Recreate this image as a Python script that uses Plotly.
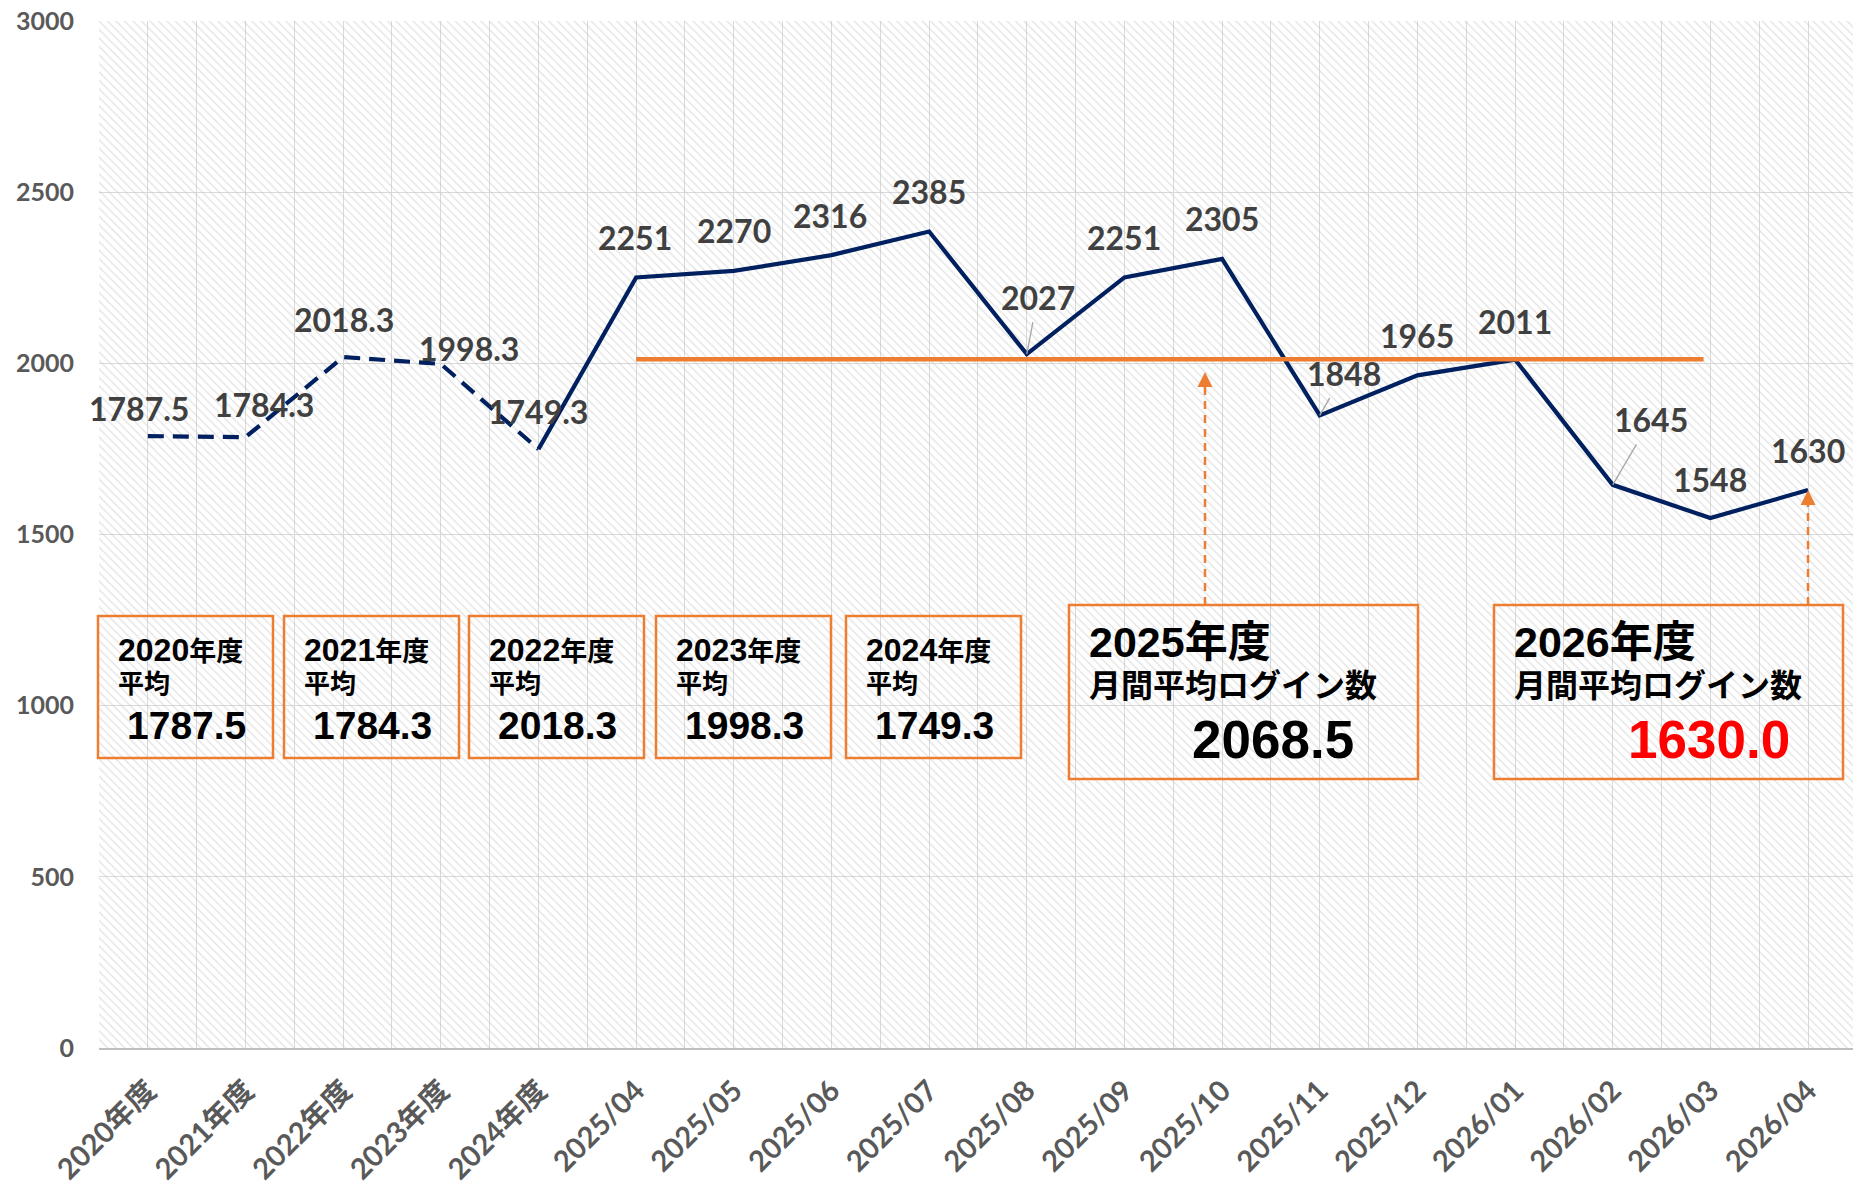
import plotly.graph_objects as go

# ---------------- data ----------------
categories = ["2020年度", "2021年度", "2022年度", "2023年度", "2024年度",
              "2025/04", "2025/05", "2025/06", "2025/07", "2025/08", "2025/09",
              "2025/10", "2025/11", "2025/12", "2026/01", "2026/02", "2026/03", "2026/04"]
values = [1787.5, 1784.3, 2018.3, 1998.3, 1749.3,
          2251, 2270, 2316, 2385, 2027, 2251, 2305, 1848, 1965, 2011, 1645, 1548, 1630]
value_labels = ["1787.5", "1784.3", "2018.3", "1998.3", "1749.3",
                "2251", "2270", "2316", "2385", "2027", "2251", "2305",
                "1848", "1965", "2011", "1645", "1548", "1630"]
n_annual = 5  # first five points are fiscal-year averages (dashed line)
y_ticks = [0, 500, 1000, 1500, 2000, 2500, 3000]
ref_line_value = 2012

annual_years = ["2020", "2021", "2022", "2023", "2024"]
annual_avgs = ["1787.5", "1784.3", "2018.3", "1998.3", "1749.3"]
summary_years = ["2025", "2026"]
summary_values = ["2068.5", "1630.0"]
summary_label = "月間平均ログイン数"

# ---------------- layout geometry ----------------
W, H = 1853, 1189
L, T, B, R = 99, 21, 141, 0
PPC = 97.66  # pixels per category
x_max = -0.5 + (W - L - R) / PPC


def px(xf):
    return (xf - L) / (W - L - R)


def py(yf):
    return (H - B - yf) / (H - B - T)


def idx_from_px(xf):
    return (xf - L) / PPC - 0.5


NAVY = "#002060"
ORANGE = "#ED7D31"
LABEL_GRAY = "#404040"
AXIS_GRAY = "#595959"
GRID = "#d9d9d9"

fig = go.Figure()

# hatched plot background
fig.add_trace(go.Scatter(
    x=[-0.5, x_max, x_max, -0.5, -0.5], y=[0, 0, 3000, 3000, 0],
    mode="none", fill="toself", fillcolor="rgba(0,0,0,0)",
    fillpattern=dict(shape="\\", fgcolor="#c6c6c6", bgcolor="rgba(0,0,0,0)",
                     size=6, solidity=0.22),
    hoverinfo="skip", showlegend=False))

xi = list(range(len(categories)))

# dashed part (fiscal-year averages)
fig.add_trace(go.Scatter(
    x=xi[:n_annual], y=values[:n_annual], mode="lines",
    line=dict(color=NAVY, width=4.2, dash="16px,9px"),
    showlegend=False, hoverinfo="skip"))
# solid part (monthly)
fig.add_trace(go.Scatter(
    x=xi[n_annual - 1:], y=values[n_annual - 1:], mode="lines",
    line=dict(color=NAVY, width=4.2),
    showlegend=False, hoverinfo="skip"))

shapes = []
annotations = []

# orange reference line
shapes.append(dict(type="line", xref="x", yref="y",
                   x0=n_annual, x1=len(categories) - 2 - 0.07,
                   y0=ref_line_value, y1=ref_line_value,
                   line=dict(color=ORANGE, width=4.5)))

# data labels: (dx, dy up) in px, leader flag
label_offsets = [(-9, 28), (19, 33), (1, 38), (28, 15), (0, 38),
                 (-1, 40), (0, 40), (-1, 40), (0, 40), (11, 57, True),
                 (0, 40), (0, 40), (24, 42, True), (0, 40), (0, 38),
                 (38, 65, True), (0, 39), (0, 40)]
label_font = dict(family="Lato, 'Noto Sans CJK JP'", size=32, color=LABEL_GRAY, weight="bold")
for i, (v, t) in enumerate(zip(values, value_labels)):
    off = label_offsets[i]
    dx, dy = off[0], off[1]
    leader = len(off) > 2
    if leader:
        annotations.append(dict(x=i, y=v, xref="x", yref="y", text=t,
                                showarrow=True, arrowhead=0, arrowwidth=1.3,
                                arrowcolor="#a6a6a6", ax=dx, ay=-dy,
                                startstandoff=4,
                                font=label_font))
    else:
        annotations.append(dict(x=i, y=v, xref="x", yref="y", text=t,
                                showarrow=False, xshift=dx, yshift=dy,
                                xanchor="center", yanchor="middle",
                                font=label_font))

# annual average boxes
box_font = "'Liberation Sans', Arial, 'Noto Sans CJK JP'"
small_lefts = [98, 284, 469, 656, 846]
small_w, small_top, small_bot = 175, 616, 758
for left, yr, av in zip(small_lefts, annual_years, annual_avgs):
    shapes.append(dict(type="rect", xref="paper", yref="paper",
                       x0=px(left), x1=px(left + small_w),
                       y0=py(small_bot), y1=py(small_top),
                       line=dict(color=ORANGE, width=2.5),
                       fillcolor="rgba(0,0,0,0)"))
    annotations.append(dict(xref="paper", yref="paper", x=px(left + 18), y=py(650),
                            xanchor="left", yanchor="middle", showarrow=False,
                            text=f"{yr}<span style='font-size:27px'>年度</span>",
                            font=dict(family=box_font, size=32, color="black", weight="bold")))
    annotations.append(dict(xref="paper", yref="paper", x=px(left + 18), y=py(684),
                            xanchor="left", yanchor="middle", showarrow=False,
                            text="平均",
                            font=dict(family=box_font, size=26, color="black", weight="bold")))
    annotations.append(dict(xref="paper", yref="paper", x=px(left + 27), y=py(725),
                            xanchor="left", yanchor="middle", showarrow=False,
                            text=av,
                            font=dict(family=box_font, size=39, color="black", weight="bold")))

# summary boxes
big_lefts = [1069, 1494]
big_w, big_top, big_bot = 349, 605, 779
num_right = [287, 298]
num_colors = ["black", "#FF0000"]
for k, (left, yr, val) in enumerate(zip(big_lefts, summary_years, summary_values)):
    shapes.append(dict(type="rect", xref="paper", yref="paper",
                       x0=px(left), x1=px(left + big_w),
                       y0=py(big_bot), y1=py(big_top),
                       line=dict(color=ORANGE, width=2.5),
                       fillcolor="rgba(0,0,0,0)"))
    annotations.append(dict(xref="paper", yref="paper", x=px(left + 18), y=py(642),
                            xanchor="left", yanchor="middle", showarrow=False,
                            text=f"{yr}年度",
                            font=dict(family=box_font, size=43, color="black", weight="bold")))
    annotations.append(dict(xref="paper", yref="paper", x=px(left + 18), y=py(686),
                            xanchor="left", yanchor="middle", showarrow=False,
                            text=summary_label,
                            font=dict(family=box_font, size=32, color="black", weight="bold")))
    annotations.append(dict(xref="paper", yref="paper", x=px(left + num_right[k]), y=py(739),
                            xanchor="right", yanchor="middle", showarrow=False,
                            text=val,
                            font=dict(family=box_font, size=53, color=num_colors[k], weight="bold")))

# orange dashed arrows from boxes up
arrow_specs = [
    (idx_from_px(1205), (1048 - 372) / ((H - B - T) / 3000)),
    (len(categories) - 1, values[-1]),
]
box_top_val = (H - B - 605) / ((H - B - T) / 3000)
for ax_x, tip in arrow_specs:
    shapes.append(dict(type="line", xref="x", yref="y",
                       x0=ax_x, x1=ax_x, y0=box_top_val, y1=tip - 25,
                       line=dict(color=ORANGE, width=2.5, dash="8px,6px")))
    annotations.append(dict(x=ax_x, y=tip, xref="x", yref="y", text="",
                            showarrow=True, arrowhead=2, arrowsize=1.2,
                            arrowwidth=2.5, arrowcolor=ORANGE, ax=0, ay=14))

fig.update_layout(
    width=W, height=H,
    margin=dict(l=L, r=R, t=T, b=B, pad=0),
    plot_bgcolor="white", paper_bgcolor="white",
    shapes=shapes, annotations=annotations,
    showlegend=False,
    xaxis=dict(range=[-0.5, x_max], tickmode="array", tickvals=xi, ticktext=categories,
               tickangle=-45, showgrid=True, gridcolor=GRID, gridwidth=1.3,
               minor=dict(tickmode="linear", tick0=0.5, dtick=1, showgrid=True,
                          gridcolor=GRID, gridwidth=1.3),
               zeroline=False, showline=True, linecolor="#bfbfbf", linewidth=2,
               ticks="", ticklabelstandoff=12,
               tickfont=dict(family="Lato, 'Noto Sans CJK JP'", size=29, color=AXIS_GRAY, weight="bold")),
    yaxis=dict(range=[0, 3000], tickmode="array", tickvals=y_ticks,
               showgrid=True, gridcolor=GRID, gridwidth=1.3, zeroline=False,
               showline=False, ticks="", ticklabelstandoff=24,
               tickfont=dict(family="Lato", size=25, color=AXIS_GRAY, weight="bold")),
)

fig.write_html("out.html", config={"displayModeBar": False},
               post_script="document.body.style.margin='0';")
